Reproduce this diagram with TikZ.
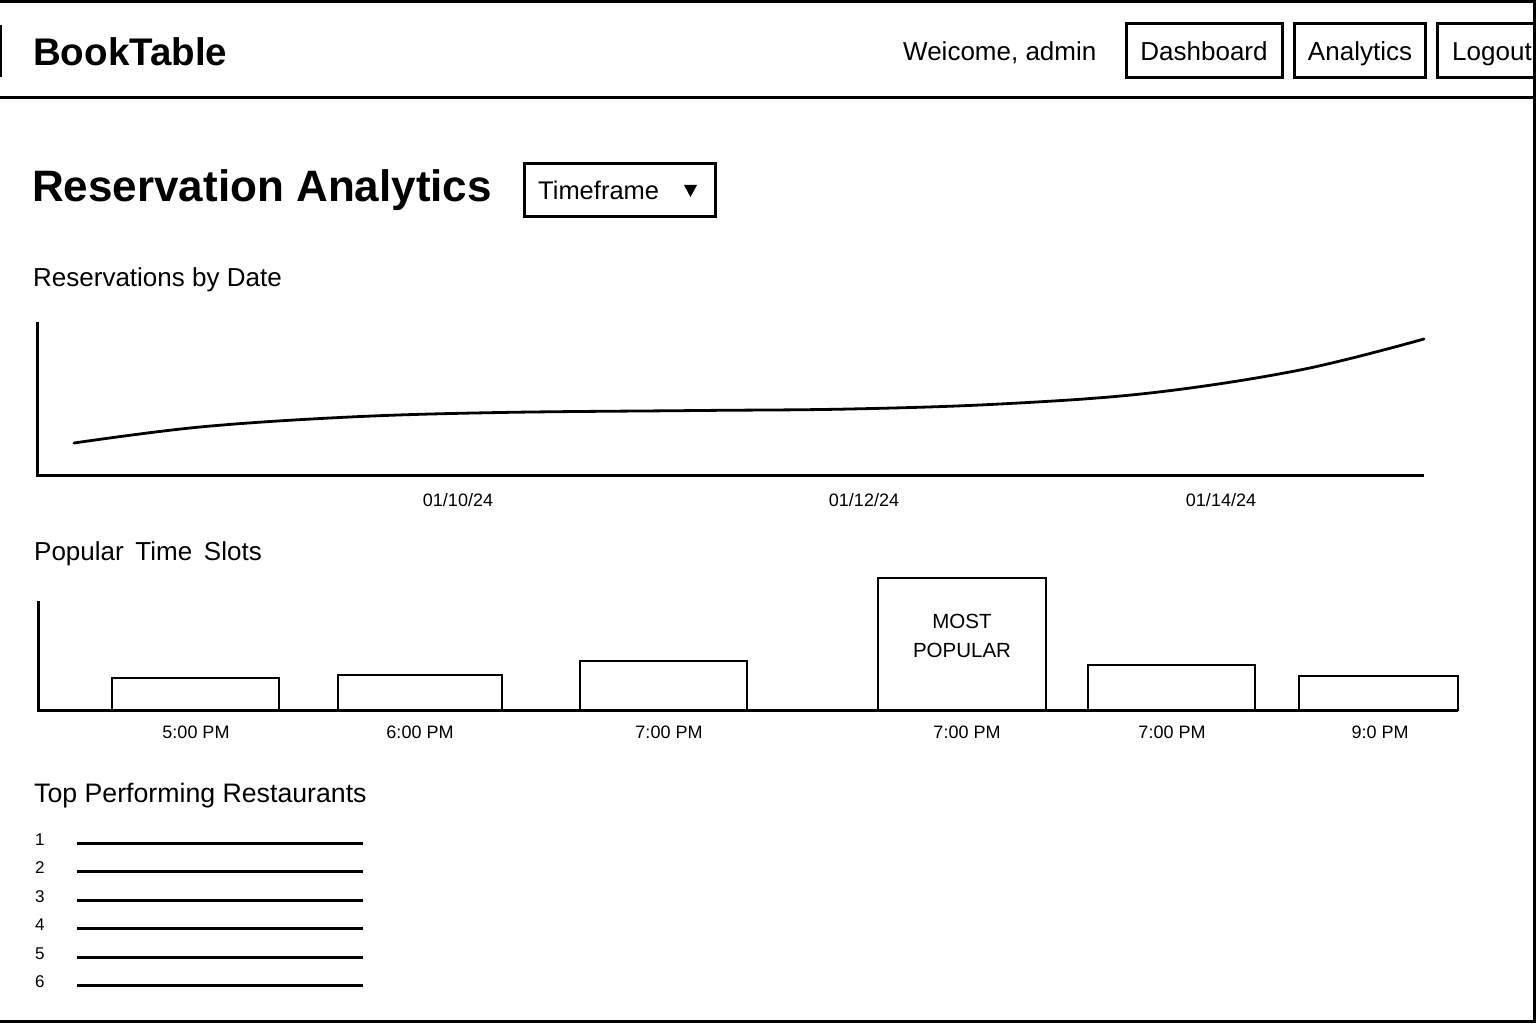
\documentclass[tikz,border=0pt]{standalone}
\usepackage{fontspec}
\setmainfont{Liberation Sans}
\usetikzlibrary{positioning}
\begin{document}
\begin{tikzpicture}[x=1pt,y=-1pt,
  frame/.style={line width=3pt,line cap=rect},
  ax/.style={line width=3pt},
  lbl/.style={inner sep=0pt,anchor=base west,font=\fontsize{26}{30}\selectfont},
  tick/.style={inner sep=0pt,anchor=base,font=\fontsize{18}{20}\selectfont},
  num/.style={inner sep=0pt,anchor=base west,font=\fontsize{17}{18}\selectfont},
  rowline/.style={line width=3pt}]
\useasboundingbox (0,0) rectangle (1536,1024);
\fill[white] (0,0) rectangle (1536,1024);
% frame
\coordinate (tl) at (0,2);
\coordinate (tr) at (1536,2);
\draw[frame] (tl) -- (tr);
\coordinate (hl) at (0,98);
\coordinate (hr) at (1536,98);
\draw[frame] (hl) -- (hr);
\coordinate (rt) at (1534,0);
\coordinate (rb) at (1534,1021);
\coordinate (bl) at (0,1021);
\draw[frame] (rt) -- (rb) -- (bl);
\coordinate (ls1) at (1,25);
\coordinate (ls2) at (1,77);
\draw[line width=2.5pt] (ls1) -- (ls2);
% header
\node[inner sep=0pt,anchor=base west,font=\bfseries\fontsize{38.5}{40}\selectfont] (brand) at (33,66) {BookTable};
\node[lbl] (welcome) at (903,61) {Weicome, admin};
\draw[line width=3pt] (1126,24) rectangle (1282,78);
\node[lbl,anchor=base] (dash) at (1204,61) {Dashboard};
\draw[line width=3pt] (1294,24) rectangle (1425,78);
\node[lbl,anchor=base] (anal) at (1360,61) {Analytics};
\draw[line width=3pt] (1536,24) -- (1437,24) -- (1437,78) -- (1536,78);
\node[lbl] (logout) at (1452,61) {Logout};
% title
\node[inner sep=0pt,anchor=base west,font=\bfseries\fontsize{44}{48}\selectfont] (title) at (32,202) {Reservation Analytics};
\draw[line width=3pt] (524,164) rectangle (715,217);
\node[lbl,font=\fontsize{25.5}{30}\selectfont] (tf) at (538,200) {Timeframe};
\fill (684,185) -- (697,185) -- (690.5,197) -- cycle;
% line chart
\node[lbl] (resdate) at (33,287) {Reservations by Date};
\coordinate (ly) at (37,322);
\coordinate (lo) at (37,475);
\coordinate (lx) at (1424,475);
\draw[ax] (ly) -- (lo) -- (lx);
\draw[line width=2.8pt,line cap=round] plot[smooth,tension=0.6] coordinates {(74,443) (200,427) (350,417) (500,412.5) (700,410.5) (850,409) (1000,404) (1150,393) (1300,370) (1424,339)};
\node[tick] (d1) at (458,506) {01/10/24};
\node[tick] (d2) at (864,506) {01/12/24};
\node[tick] (d3) at (1221,506) {01/14/24};
% bar chart
\node[lbl] (slots) at (34,560) {Popular\hspace{0.45em}Time\hspace{0.45em}Slots};
\coordinate (by) at (38,601);
\coordinate (bo) at (38,710);
\coordinate (bx) at (1458,710);
\draw[line width=2.5pt] (112,710) rectangle (279,678);
\draw[line width=2.5pt] (338,710) rectangle (502,675);
\draw[line width=2.5pt] (580,710) rectangle (747,661);
\draw[line width=2.5pt] (878,710) rectangle (1046,578);
\draw[line width=2.5pt] (1088,710) rectangle (1255,665);
\draw[line width=2.5pt] (1299,710) rectangle (1458,676);
\draw[ax] (by) -- (bo) -- (bx);
\node[inner sep=0pt,anchor=base,font=\fontsize{20.5}{24}\selectfont] (most) at (962,628) {MOST};
\node[inner sep=0pt,anchor=base,font=\fontsize{20.5}{24}\selectfont] (popular) at (962,657) {POPULAR};
\node[tick] (t1) at (196,738) {5:00 PM};
\node[tick] (t2) at (420,738) {6:00 PM};
\node[tick] (t3) at (669,738) {7:00 PM};
\node[tick] (t4) at (967,738) {7:00 PM};
\node[tick] (t5) at (1172,738) {7:00 PM};
\node[tick] (t6) at (1380,738) {9:0 PM};
% top restaurants
\node[lbl,font=\fontsize{26.7}{30}\selectfont] (top) at (34,802) {Top Performing Restaurants};
\foreach \i/\y in {1/843,2/871,3/900,4/928,5/957,6/985}{
  \node[num] (n\i) at (35,\y+2) {\i};
  \coordinate (a\i) at (77,\y);
  \coordinate (b\i) at (363,\y);
  \draw[rowline] (a\i) -- (b\i);
}
\end{tikzpicture}
\end{document}
